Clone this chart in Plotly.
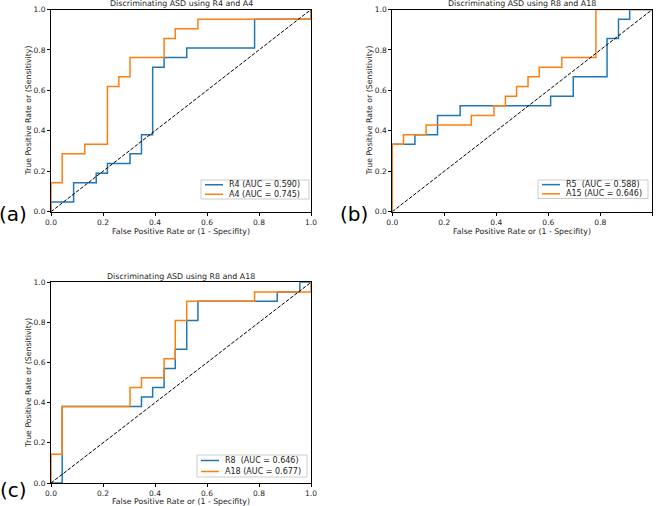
import plotly.graph_objects as go

# ROC curves (step points, fpr / tpr)
a_r4_fpr = [0, 0, 0.087, 0.087, 0.174, 0.174, 0.217, 0.217, 0.304, 0.304, 0.348, 0.348, 0.391, 0.391, 0.435, 0.435, 0.522, 0.522, 0.783, 0.783, 1.0, 1.0]
a_r4_tpr = [0, 0.048, 0.048, 0.143, 0.143, 0.190, 0.190, 0.238, 0.238, 0.286, 0.286, 0.381, 0.381, 0.714, 0.714, 0.762, 0.762, 0.810, 0.810, 0.952, 0.952, 1.0]
a_a4_fpr = [0, 0, 0.043, 0.043, 0.130, 0.130, 0.217, 0.217, 0.261, 0.261, 0.304, 0.304, 0.435, 0.435, 0.478, 0.478, 0.565, 0.565, 1.0, 1.0]
a_a4_tpr = [0, 0.143, 0.143, 0.286, 0.286, 0.333, 0.333, 0.619, 0.619, 0.667, 0.667, 0.762, 0.762, 0.857, 0.857, 0.905, 0.905, 0.952, 0.952, 1.0]

b_r5_fpr = [0, 0, 0.087, 0.087, 0.174, 0.174, 0.261, 0.261, 0.609, 0.609, 0.696, 0.696, 0.826, 0.826, 0.870, 0.870, 0.913, 0.913, 1.0]
b_r5_tpr = [0, 0.333, 0.333, 0.381, 0.381, 0.476, 0.476, 0.524, 0.524, 0.571, 0.571, 0.667, 0.667, 0.857, 0.857, 0.952, 0.952, 1.0, 1.0]
b_a15_fpr = [0, 0, 0.043, 0.043, 0.130, 0.130, 0.304, 0.304, 0.391, 0.391, 0.435, 0.435, 0.478, 0.478, 0.522, 0.522, 0.565, 0.565, 0.652, 0.652, 0.783, 0.783, 1.0]
b_a15_tpr = [0, 0.333, 0.333, 0.381, 0.381, 0.429, 0.429, 0.476, 0.476, 0.524, 0.524, 0.571, 0.571, 0.619, 0.619, 0.667, 0.667, 0.714, 0.714, 0.762, 0.762, 1.0, 1.0]

c_r8_fpr = [0, 0.043, 0.043, 0.348, 0.348, 0.391, 0.391, 0.435, 0.435, 0.478, 0.478, 0.522, 0.522, 0.565, 0.565, 0.870, 0.870, 0.957, 0.957, 1.0]
c_r8_tpr = [0, 0, 0.381, 0.381, 0.429, 0.429, 0.476, 0.476, 0.571, 0.571, 0.667, 0.667, 0.810, 0.810, 0.905, 0.905, 0.952, 0.952, 1.0, 1.0]
c_a18_fpr = [0, 0, 0.043, 0.043, 0.304, 0.304, 0.348, 0.348, 0.435, 0.435, 0.478, 0.478, 0.522, 0.522, 0.783, 0.783, 1.0, 1.0]
c_a18_tpr = [0, 0.143, 0.143, 0.381, 0.381, 0.476, 0.476, 0.524, 0.524, 0.619, 0.619, 0.810, 0.810, 0.905, 0.905, 0.952, 0.952, 1.0]

titles = ["Discriminating ASD using R4 and A4", "Discriminating ASD using R8 and A18", "Discriminating ASD using R8 and A18"]
names = [["R4 (AUC = 0.590)", "A4 (AUC = 0.745)"],
         ["R5\u00a0 (AUC = 0.588)", "A15 (AUC = 0.646)"],
         ["R8\u00a0 (AUC = 0.646)", "A18 (AUC = 0.677)"]]
panel_labels = ["(a)", "(b)", "(c)"]
x_title = "False Positive Rate or (1 - Specifity)"
y_title = "True Positive Rate or (Sensitivity)"

BLUE = "#1f77b4"
ORANGE = "#ff7f0e"
FONT = "DejaVu Sans"
TXT = "#222222"
W, H = 658, 506

# panel boxes in pixels (left, top, right, bottom)
boxes = [(51, 9.5, 311, 211.7), (392.3, 9.5, 652.3, 211.7), (51, 282.3, 311, 483)]
legend_boxes = [(201, 180, 309, 199), (538, 180, 648, 198.5), (197, 455, 307, 477)]
curves = [(a_r4_fpr, a_r4_tpr, a_a4_fpr, a_a4_tpr),
          (b_r5_fpr, b_r5_tpr, b_a15_fpr, b_a15_tpr),
          (c_r8_fpr, c_r8_tpr, c_a18_fpr, c_a18_tpr)]
label_pos = [(13, 214), (354, 214), (13, 490)]
xtitle_y = [231, 231, 501.5]
ytitle_x = [29, 370, 29]


def px(x):
    return x / W


def py(y):
    return 1 - y / H


def note(text, x, y, size, xanchor="center", yanchor="middle", color=TXT, angle=0, pad=1):
    return dict(text=text, x=px(x), y=py(y), xref="paper", yref="paper", textangle=angle,
                xanchor=xanchor, yanchor=yanchor, showarrow=False, borderpad=pad,
                font=dict(family=FONT, size=size, color=color))


fig = go.Figure()
layout = {}
annotations = []
shapes = []
for i in range(3):
    sfx = "" if i == 0 else str(i + 1)
    xa, ya = "x" + sfx, "y" + sfx
    l, t, r, b = boxes[i]
    x1, y1, x2, y2 = curves[i]
    fig.add_trace(go.Scatter(x=x1, y=y1, mode="lines", name=names[i][0],
                             line=dict(color=BLUE, width=1.5), xaxis=xa, yaxis=ya))
    fig.add_trace(go.Scatter(x=x2, y=y2, mode="lines", name=names[i][1],
                             line=dict(color=ORANGE, width=1.5), xaxis=xa, yaxis=ya))
    fig.add_trace(go.Scatter(x=[0, 1], y=[0, 1], mode="lines",
                             line=dict(color="black", width=1, dash="3.7px,1.6px"), xaxis=xa, yaxis=ya))
    ax = dict(range=[0, 1], showgrid=False, zeroline=False, showline=True, mirror=True,
              linecolor="black", linewidth=1, ticks="outside", ticklen=3, tickcolor="black",
              tickvals=[0, 0.2, 0.4, 0.6, 0.8, 1.0], tickformat=".1f", automargin=False,
              tickfont=dict(family=FONT, size=7.5, color=TXT))
    layout["xaxis" + sfx] = dict(ax, domain=[px(l), px(r)], anchor=ya)
    layout["yaxis" + sfx] = dict(ax, domain=[py(b), py(t)], anchor=xa)

    annotations.append(note(titles[i], (l + r) / 2, t - 0.3, 7.9, yanchor="bottom", pad=0))
    annotations.append(note(x_title, (l + r) / 2, xtitle_y[i], 7.8, pad=0))
    annotations.append(note(y_title, ytitle_x[i], (t + b) / 2, 7.8, angle=-90, pad=0))
    lx, ly = label_pos[i]
    annotations.append(note(panel_labels[i], lx, ly, 20, color="black"))

    # legend box (lower right, matplotlib style)
    gl, gt, gr, gb = legend_boxes[i]
    shapes.append(dict(type="rect", xref="paper", yref="paper", x0=px(gl), x1=px(gr), y0=py(gb), y1=py(gt),
                       fillcolor="white", line=dict(color="#cccccc", width=1), layer="above"))
    row_h = (gb - gt) / 2
    for k, col in enumerate([BLUE, ORANGE]):
        yc = gt + row_h * (k + 0.5)
        shapes.append(dict(type="line", xref="paper", yref="paper", x0=px(gl + 4), x1=px(gl + 22),
                           y0=py(yc), y1=py(yc), line=dict(color=col, width=1.5), layer="above"))
        annotations.append(note(names[i][k], gl + 26, yc, 8, xanchor="left"))

fig.update_layout(**layout)
fig.update_layout(width=W, height=H, margin=dict(l=0, r=0, t=0, b=0),
                  paper_bgcolor="white", plot_bgcolor="white", showlegend=False,
                  annotations=annotations, shapes=shapes, font=dict(family=FONT))
# drop the browser's default 8px body margin so the figure sits at the window corner
fig.write_html("out.html", config={"displayModeBar": False},
               post_script="document.body.style.margin='0';document.body.style.overflow='hidden';")
